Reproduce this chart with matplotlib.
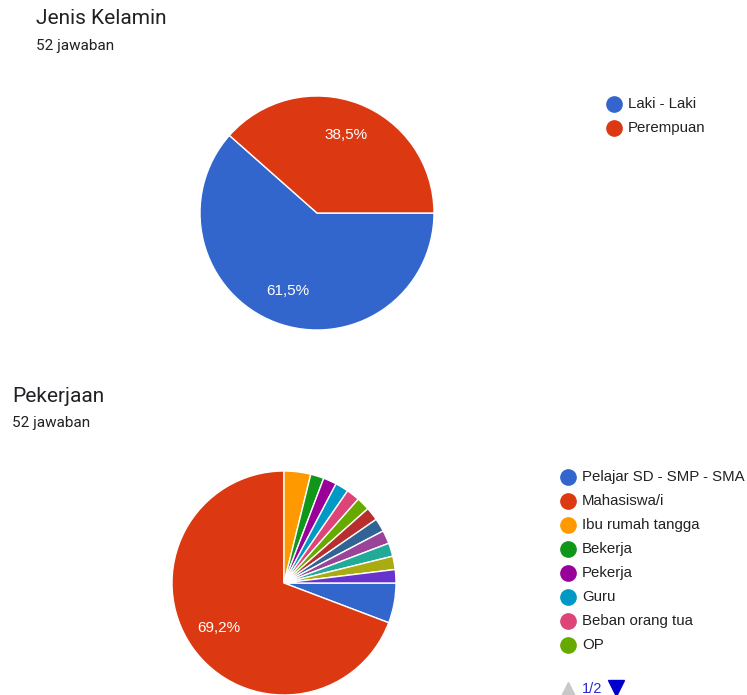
import matplotlib.pyplot as plt
from matplotlib.lines import Line2D

plt.rcParams['font.family'] = ['Roboto', 'DejaVu Sans']
chart_font = ['Liberation Sans', 'DejaVu Sans']

# data (52 answers each)
gender_labels = ['Laki - Laki', 'Perempuan']
gender_counts = [32, 20]
gender_colors = ['#3366cc', '#dc3912']

job_labels = ['Pelajar SD - SMP - SMA', 'Mahasiswa/i', 'Ibu rumah tangga',
              'Bekerja', 'Pekerja', 'Guru', 'Beban orang tua', 'OP']
# page 1 of the legend shows 8 items, the other 6 slices are on page 2
job_counts = [3, 36, 2, 1, 1, 1, 1, 1, 1, 1, 1, 1, 1, 1]
job_colors = ['#3366cc', '#dc3912', '#ff9900', '#109618', '#990099', '#0099c6',
              '#dd4477', '#66aa00', '#b82e2e', '#316395', '#994499', '#22aa99',
              '#aaaa11', '#6633cc']

W, H = 747, 695
fig = plt.figure(figsize=(W / 100, H / 100), dpi=100)
fig.patch.set_facecolor('white')


def pix_axes(cx, cy, r):
    # axes square around a pie centre given in pixels (y from top)
    return fig.add_axes([(cx - r) / W, 1 - (cy + r) / H, 2 * r / W, 2 * r / H])


def pct_fmt(p):
    if p < 10:
        return ''
    return f'{p:.1f}'.replace('.', ',') + '%'


def draw_pie(ax, counts, colors):
    ax.pie(counts, colors=colors, startangle=0, counterclock=False, radius=1,
           autopct=pct_fmt, pctdistance=0.71,
           wedgeprops=dict(edgecolor='white', linewidth=1),
           textprops=dict(color='white', fontsize=11, family=chart_font))
    # pie() pads the limits, reset so the circle fills the axes
    ax.set_xlim(-1, 1)
    ax.set_ylim(-1, 1)
    ax.axis('off')


ax1 = pix_axes(317, 213, 117)
draw_pie(ax1, gender_counts, gender_colors)

ax2 = pix_axes(284, 583, 112)
draw_pie(ax2, job_counts, job_colors)

# overlay in pixel coordinates for titles and legends
ov = fig.add_axes([0, 0, 1, 1], zorder=-1)
ov.set_xlim(0, W)
ov.set_ylim(H, 0)
ov.axis('off')

ov.text(36, 19, 'Jenis Kelamin', fontsize=15, color='#202124', va='center')
ov.text(36, 46, '52 jawaban', fontsize=11, color='#202124', va='center')
ov.text(12, 396, 'Pekerjaan', fontsize=15, color='#202124', va='center')
ov.text(12, 423, '52 jawaban', fontsize=11, color='#202124', va='center')


def draw_legend(x, y0, labels, colors):
    for i, (lab, col) in enumerate(zip(labels, colors)):
        y = y0 + i * 24
        ov.add_line(Line2D([x], [y], marker='o', markersize=11, color=col, linestyle=''))
        ov.text(x + 14, y, lab, fontsize=10.8, color='#222222', va='center',
                family=chart_font)


draw_legend(614, 104, gender_labels, gender_colors)
draw_legend(568, 477, job_labels, job_colors[:len(job_labels)])

# pager under the second legend
ov.add_line(Line2D([568], [689], marker='^', markersize=10, color='#c8c8c8', linestyle=''))
ov.text(582, 689, '1/2', fontsize=10.5, color='#2a2ad0', va='center', family=chart_font)
ov.add_line(Line2D([616], [688], marker='v', markersize=11, color='#0000cc', linestyle=''))

fig.savefig('out.png', dpi=100)
